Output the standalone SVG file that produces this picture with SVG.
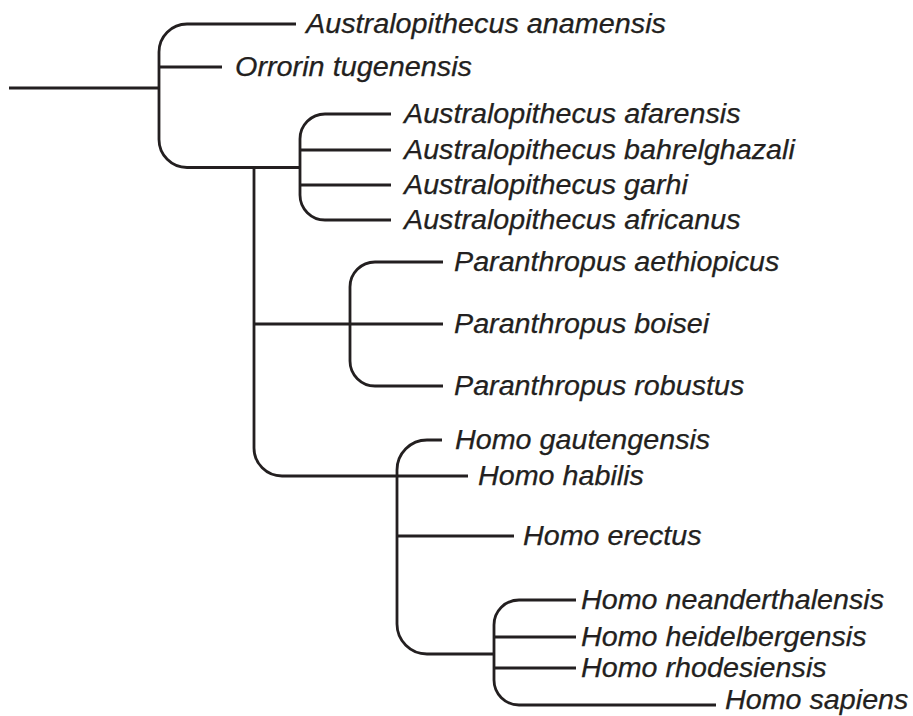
<svg xmlns="http://www.w3.org/2000/svg" width="913" height="716" viewBox="0 0 913 716">
<style>
.ln{fill:none;stroke:#231f20;stroke-width:2.8;stroke-linecap:butt;stroke-linejoin:round}
text{font-family:"Liberation Sans",Arial,Helvetica,sans-serif;font-style:italic;font-size:27px;fill:#231f20;stroke:#231f20;stroke-width:0.25}
</style>
<rect width="913" height="716" fill="#ffffff"/>
<g id="connectors" class="ln">
<path d="M9,88 H159"/>
<path d="M296,24 H187 A28,28 0 0 0 159,52 V139.5 A28,28 0 0 0 187,167.5 H300"/>
<path d="M159,67 H222"/>
<path d="M391,114 H325 A25,25 0 0 0 300,139 V195 A25,25 0 0 0 325,220 H391"/>
<path d="M300,150 H391"/>
<path d="M300,185 H391"/>
<path d="M254,167.5 V448 A28,28 0 0 0 282,476 H468"/>
<path d="M254,324 H443"/>
<path d="M443,262 H375 A25,25 0 0 0 350,287 V361 A25,25 0 0 0 375,386 H443"/>
<path d="M442,440 H427 A30,30 0 0 0 397,470 V624 A30,30 0 0 0 427,654 H494"/>
<path d="M397,536 H514"/>
<path d="M576,600 H519 A25,25 0 0 0 494,625 V680 A25,25 0 0 0 519,705 H716"/>
<path d="M494,637 H576"/>
<path d="M494,668 H576"/>
</g>
<g id="anamensis"><text x="306" y="33" textLength="360" lengthAdjust="spacingAndGlyphs">Australopithecus anamensis</text></g>
<g id="orrorin"><text x="235" y="76" textLength="237" lengthAdjust="spacingAndGlyphs">Orrorin tugenensis</text></g>
<g id="afarensis"><text x="404" y="123" textLength="336.6" lengthAdjust="spacingAndGlyphs">Australopithecus afarensis</text></g>
<g id="bahrelghazali"><text x="404" y="159" textLength="390.8" lengthAdjust="spacingAndGlyphs">Australopithecus bahrelghazali</text></g>
<g id="garhi"><text x="404" y="194" textLength="283.9" lengthAdjust="spacingAndGlyphs">Australopithecus garhi</text></g>
<g id="africanus"><text x="404" y="229" textLength="336.6" lengthAdjust="spacingAndGlyphs">Australopithecus africanus</text></g>
<g id="aethiopicus"><text x="454" y="271" textLength="325.4" lengthAdjust="spacingAndGlyphs">Paranthropus aethiopicus</text></g>
<g id="boisei"><text x="454" y="333" textLength="255.2" lengthAdjust="spacingAndGlyphs">Paranthropus boisei</text></g>
<g id="robustus"><text x="454" y="395" textLength="290.3" lengthAdjust="spacingAndGlyphs">Paranthropus robustus</text></g>
<g id="gautengensis"><text x="455" y="449" textLength="255.2" lengthAdjust="spacingAndGlyphs">Homo gautengensis</text></g>
<g id="habilis"><text x="478" y="485" textLength="165.9" lengthAdjust="spacingAndGlyphs">Homo habilis</text></g>
<g id="erectus"><text x="523" y="545" textLength="178.6" lengthAdjust="spacingAndGlyphs">Homo erectus</text></g>
<g id="neanderthalensis"><text x="581" y="609" textLength="303.1" lengthAdjust="spacingAndGlyphs">Homo neanderthalensis</text></g>
<g id="heidelbergensis"><text x="581" y="646" textLength="285.5" lengthAdjust="spacingAndGlyphs">Homo heidelbergensis</text></g>
<g id="rhodesiensis"><text x="581" y="677" textLength="245.6" lengthAdjust="spacingAndGlyphs">Homo rhodesiensis</text></g>
<g id="sapiens"><text x="725" y="709" textLength="183.4" lengthAdjust="spacingAndGlyphs">Homo sapiens</text></g>
</svg>
